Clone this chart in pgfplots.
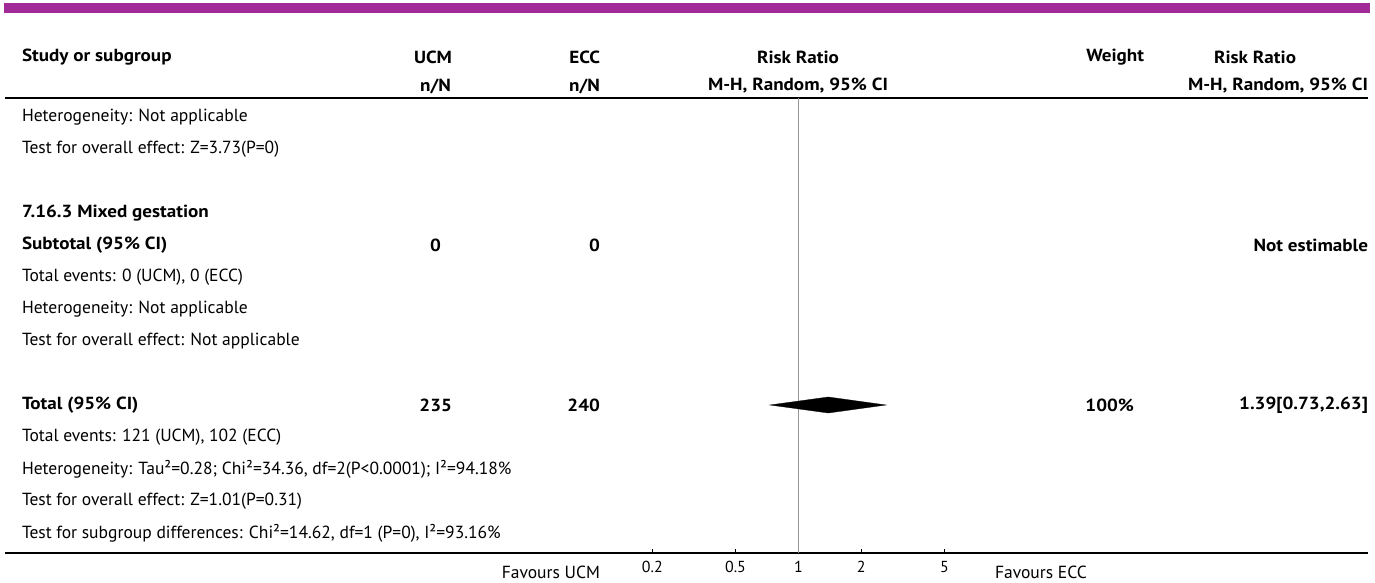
\documentclass[border=0pt]{standalone}
\usepackage{pgfplots}
\pgfplotsset{compat=1.18}
\usepackage{fontspec}
\setmainfont{PT Sans}[BoldFeatures={FakeStretch=1.09}]
\definecolor{cpurple}{RGB}{160,42,152}
\definecolor{vgray}{RGB}{150,150,150}
\newcommand{\bodyfont}{\fontsize{17.6}{21}\selectfont}
\begin{document}
\begin{tikzpicture}[every node/.style={inner sep=0pt,outer sep=0pt,font=\bodyfont}]
\begin{scope}[x=1bp,y=-1bp]
\path[use as bounding box] (0,0) rectangle (1375,583);
% top purple band
\fill[cpurple] (4,3) rectangle (1370,13);
% headers
\node[anchor=west,font=\bodyfont\bfseries] at (22,57) {Study or subgroup};
\node[anchor=east,font=\bodyfont\bfseries] at (452,57) {UCM};
\node[anchor=east,font=\bodyfont\bfseries] at (451,86) {n/N};
\node[anchor=east,font=\bodyfont\bfseries] at (600,57) {ECC};
\node[anchor=east,font=\bodyfont\bfseries] at (600,86) {n/N};
\node[font=\bodyfont\bfseries] at (798,57) {Risk Ratio};
\node[font=\bodyfont\bfseries] at (798,86) {M-H, Random, 95\% CI};
\node[anchor=east,font=\bodyfont\bfseries] at (1144,57) {Weight};
\node[font=\bodyfont\bfseries] at (1255,57) {Risk Ratio};
\node[anchor=east,font=\bodyfont\bfseries] at (1368,86) {M-H, Random, 95\% CI};
\draw[line width=1.5bp] (5,98) -- (1368,98);
% rows
\node[anchor=west] at (22,117) {Heterogeneity: Not applicable};
\node[anchor=west] at (22,149) {Test for overall effect: Z=3.73(P=0)};
\node[anchor=west,font=\bodyfont\bfseries] at (22,213) {7.16.3 Mixed gestation};
\node[anchor=west,font=\bodyfont\bfseries] at (22,245) {Subtotal (95\% CI)};
\node[anchor=east,font=\bodyfont\bfseries] at (441,245) {0};
\node[anchor=east,font=\bodyfont\bfseries] at (600,245) {0};
\node[anchor=east,font=\bodyfont\bfseries] at (1368,245) {Not estimable};
\node[anchor=west] at (22,277) {Total events: 0 (UCM), 0 (ECC)};
\node[anchor=west] at (22,309) {Heterogeneity: Not applicable};
\node[anchor=west] at (22,341) {Test for overall effect: Not applicable};
\node[anchor=west,font=\bodyfont\bfseries] at (22,405) {Total (95\% CI)};
\node[anchor=east,font=\bodyfont\bfseries] at (452,405) {235};
\node[anchor=east,font=\bodyfont\bfseries] at (600,405) {240};
\node[anchor=east,font=\bodyfont\bfseries] at (1134,405) {100\%};
\node[anchor=east,font=\bodyfont\bfseries] at (1368,405) {1.39[0.73,2.63]};
\node[anchor=west] at (22,437) {Total events: 121 (UCM), 102 (ECC)};
\node[anchor=west] at (22,469) {Heterogeneity: Tau²=0.28; Chi²=34.36, df=2(P<0.0001); I²=94.18\%};
\node[anchor=west] at (22,501) {Test for overall effect: Z=1.01(P=0.31)};
\node[anchor=west] at (22,533) {Test for subgroup differences: Chi²=14.62, df=1 (P=0), I²=93.16\%};
\draw[line width=1.2bp] (5,553) -- (1368,553);
\node[anchor=east] at (600,572) {Favours UCM};
\node[anchor=west] at (995,572) {Favours ECC};
\coordinate (axpos) at (625,553);
\end{scope}
\begin{axis}[
  at={(axpos)}, anchor=south west,
  scale only axis, width=346bp, height=455bp,
  xmode=log, xmin=0.148, xmax=6.7,
  ymin=-553, ymax=-98,
  axis x line*=bottom, axis y line=none,
  axis line style={-,line width=1.5bp,black},
  xtick={0.2,0.5,1,2,5}, xticklabels={0.2,0.5,1,2,5},
  xminorticks=false,
  tick align=inside, major tick length=4bp,
  every tick/.style={black,line width=0.6bp},
  /pgf/number format/assume math mode=true,
  xticklabel style={font=\fontsize{16}{18}\selectfont, inner sep=0pt, yshift=-8bp},
  clip=false,
]
\addplot[vgray, line width=1bp] coordinates {(1,-98) (1,-553)};
\addplot[fill=black, draw=black, line width=0.3bp] coordinates {(0.73,-405) (1.39,-397) (2.63,-405) (1.39,-413)} -- cycle;
\end{axis}
\end{tikzpicture}
\end{document}
